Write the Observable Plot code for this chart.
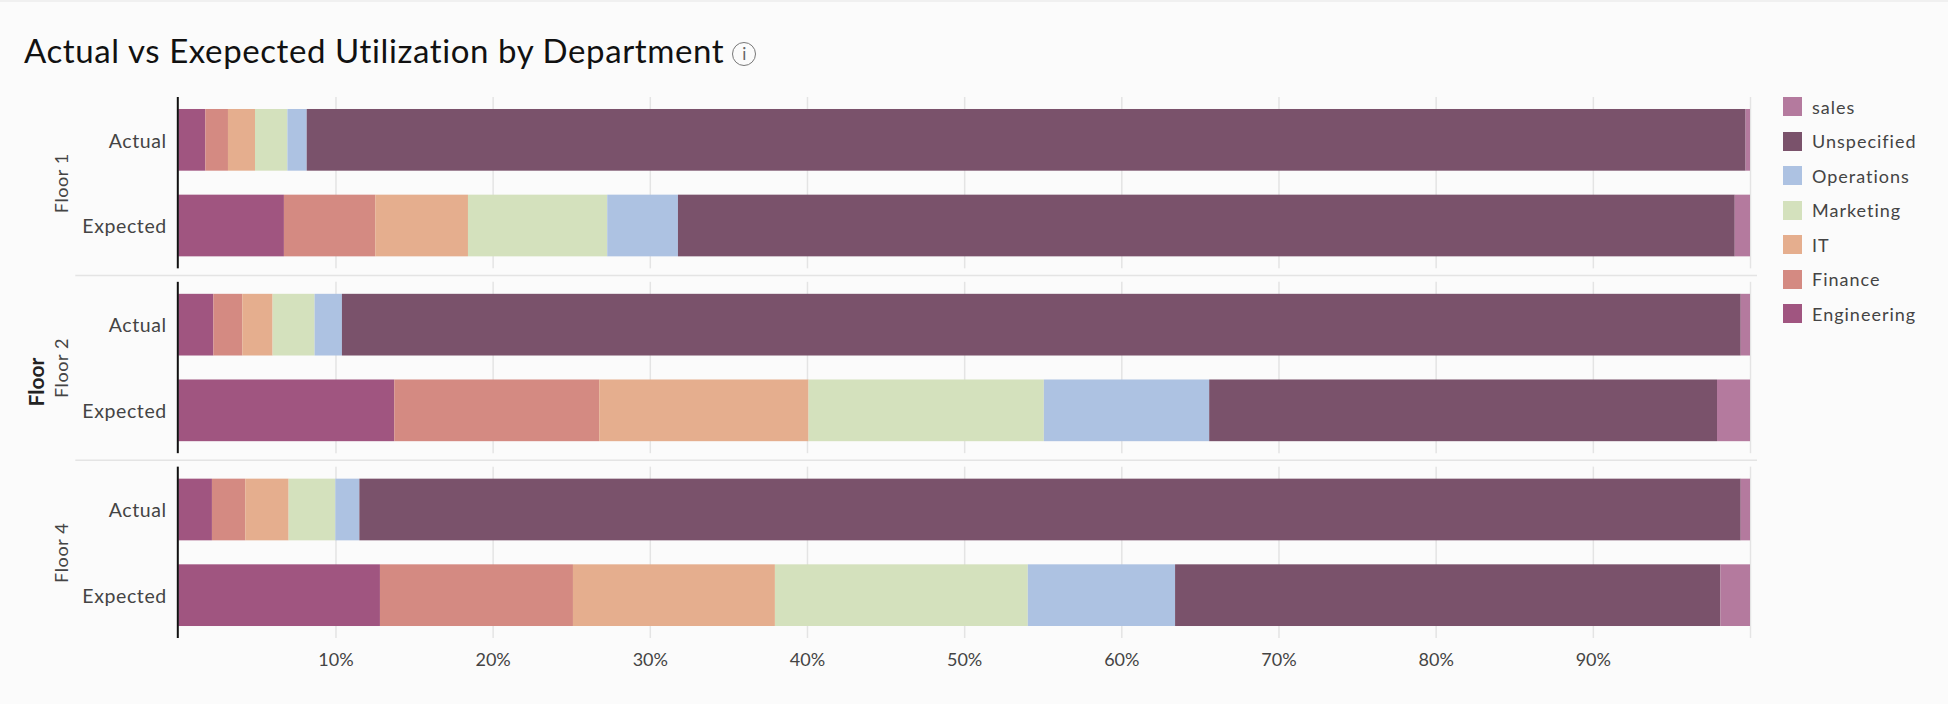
<!DOCTYPE html>
<html>
<head>
<meta charset="utf-8">
<script src="https://cdn.jsdelivr.net/npm/d3@7"></script>
<script src="https://cdn.jsdelivr.net/npm/@observablehq/plot@0.6"></script>
<style>
  html, body { margin: 0; padding: 0; background: #fbfbfb; }
  body { width: 1948px; height: 704px; overflow: hidden; position: relative; font-family: Lato, sans-serif; border-top: 2px solid #f0f0f0; box-sizing: border-box; }
  #head { height: 78px; box-sizing: border-box; padding: 27px 0 0 24px; font-size: 33px; letter-spacing: 0.6px; line-height: 42px; color: #111; white-space: nowrap; }
  #head .info { display: inline-block; width: 24px; height: 24px; border: 1.5px solid #777; border-radius: 50%; box-sizing: border-box; text-align: center; font-size: 17px; letter-spacing: 0; line-height: 21px; color: #666; margin-left: 8px; vertical-align: 3px; }
  #legend { position: absolute; left: 1783px; top: 87.25px; }
  #legend div { display: flex; align-items: center; height: 34.5px; font-size: 18px; letter-spacing: 1px; color: #444; }
  #legend i { display: block; width: 19px; height: 19px; margin-right: 10px; }
  svg { display: block; }
  svg g[aria-label="y-axis tick label"] text { letter-spacing: 0.6px; }
  svg g[aria-label="fy-axis tick label"] text { letter-spacing: 0.6px; }
</style>
</head>
<body>
<div id="head">Actual vs Exepected Utilization by Department<span class="info">i</span></div>
<div id="chart"></div>
<div id="legend"></div>
<script>
const floors = ["Floor 1", "Floor 2", "Floor 4"];
const kinds = ["Actual", "Expected"];
const departments = ["Engineering", "Finance", "IT", "Marketing", "Operations", "Unspecified", "sales"];
const colors = ["#a05580", "#d48a82", "#e5ae8e", "#d4e1bd", "#adc2e2", "#7a526b", "#b47a9e"];

const floor1Actual   = [1.72, 1.44, 1.72, 2.06, 1.23, 91.55, 0.28];
const floor1Expected = [6.72, 5.81, 5.90, 8.86, 4.50, 67.24, 0.97];
const floor2Actual   = [2.23, 1.84, 1.93, 2.67, 1.74, 89.00, 0.59];
const floor2Expected = [13.74, 13.04, 13.32, 14.97, 10.52, 32.31, 2.10];
const floor4Actual   = [2.14, 2.12, 2.76, 2.97, 1.53, 87.89, 0.59];
const floor4Expected = [12.83, 12.28, 12.85, 16.09, 9.37, 34.70, 1.88];

const xTicks = [10, 20, 30, 40, 50, 60, 70, 80, 90];
const gridTicks = [...xTicks, 100];

const series = [
  ["Floor 1", "Actual", floor1Actual], ["Floor 1", "Expected", floor1Expected],
  ["Floor 2", "Actual", floor2Actual], ["Floor 2", "Expected", floor2Expected],
  ["Floor 4", "Actual", floor4Actual], ["Floor 4", "Expected", floor4Expected]
];
const rows = series.flatMap(([floor, kind, values]) =>
  values.map((value, i) => ({floor, kind, department: departments[i], value})));

const textColor = "#444";
const chart = Plot.plot({
  width: 1948,
  height: 624,
  marginTop: 17,
  marginBottom: 66,
  marginLeft: 178.3,
  marginRight: 198,
  style: {background: "transparent", fontFamily: "Lato, sans-serif", fontSize: "18px", color: textColor},
  x: {domain: [0, 100], label: null},
  y: {domain: kinds, paddingInner: 0.28, paddingOuter: 0.14, round: false, label: null},
  fy: {domain: floors, paddingInner: 0.073, paddingOuter: 0, round: false, label: null},
  color: {domain: departments, range: colors},
  marks: [
    Plot.ruleX(gridTicks, {stroke: "#e4e4e4", strokeWidth: 1.5}),
    Plot.barX(rows, Plot.stackX({
      x: "value", y: "kind", fy: "floor", fill: "department", order: departments
    })),
    Plot.ruleX([0], {stroke: "#111", strokeWidth: 2, dx: -1}),
    Plot.ruleY(floors.slice(0, -1), {
      fy: d => d, y: null, x1: 0, x2: 100, insetLeft: -103, insetRight: -7,
      dy: 92.25, stroke: "#e4e4e4", strokeWidth: 1.5
    }),
    Plot.axisX({anchor: "bottom", ticks: xTicks, tickSize: 0, tickPadding: 15, label: null,
      tickFormat: d => d + "%", fontSize: 18, fill: textColor}),
    Plot.axisY({anchor: "left", tickSize: 0, tickPadding: 12, label: null, fontSize: 19.5, fill: textColor, dy: 1}),
    Plot.axisFy({anchor: "left", tickSize: 0, tickPadding: 111, tickRotate: -90, label: null, fontSize: 18, fill: textColor}),
    Plot.text(["Floor"], {
      fy: () => "Floor 2", text: d => d, frameAnchor: "left", rotate: -90,
      dx: -142, dy: 38.5, fontSize: 21, fontWeight: 700, fill: "#222"
    })
  ]
});
document.getElementById("chart").append(chart);

const legend = d3.select("#legend");
departments.map((d, i) => [d, colors[i]]).reverse().forEach(([name, color]) => {
  const row = legend.append("div");
  row.append("i").style("background", color);
  row.append("span").text(name);
});
</script>
</body>
</html>
